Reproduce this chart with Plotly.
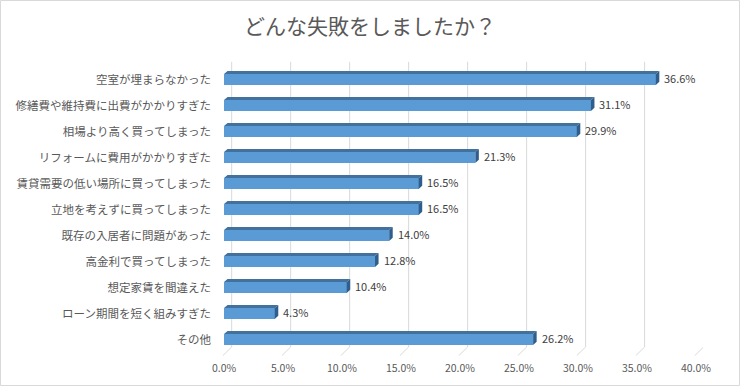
import plotly.graph_objects as go

categories = [
    "空室が埋まらなかった",
    "修繕費や維持費に出費がかかりすぎた",
    "相場より高く買ってしまった",
    "リフォームに費用がかかりすぎた",
    "賃貸需要の低い場所に買ってしまった",
    "立地を考えずに買ってしまった",
    "既存の入居者に問題があった",
    "高金利で買ってしまった",
    "想定家賃を間違えた",
    "ローン期間を短く組みすぎた",
    "その他",
]
values = [36.6, 31.1, 29.9, 21.3, 16.5, 16.5, 14.0, 12.8, 10.4, 4.3, 26.2]
tick_vals = [0, 5, 10, 15, 20, 25, 30, 35, 40]
tick_text = ["0.0%", "5.0%", "10.0%", "15.0%", "20.0%", "25.0%", "30.0%", "35.0%", "40.0%"]

W, H = 740, 386
ML, MR, MT, MB = 222, 37, 60, 30
FONT = "Noto Sans CJK JP"

FRONT = "#5B9BD5"
TOP = "#41719C"
SIDE = "#2F5E8C"
GRID = "#D9D9D9"

idx = list(range(len(categories)))
half = 0.21      # half height of front face (category units)
topd = 0.12      # top face depth (vertical)
d = 0.3          # depth shift in x (%)

fig = go.Figure()

# Front faces
fig.add_trace(go.Bar(
    x=values, y=idx, orientation="h", width=2 * half,
    marker=dict(color=FRONT, line=dict(width=0)),
    hoverinfo="skip", showlegend=False,
))

# Top faces & side faces as parallelograms
tx, ty, sx, sy = [], [], [], []
for i, v in zip(idx, values):
    yt = i - half
    tx += [0, v, v + d, d, 0, None]
    ty += [yt, yt, yt - topd, yt - topd, yt, None]
    sx += [v, v, v + d, v + d, v, None]
    sy += [yt, i + half, i + half - topd, yt - topd, yt, None]

fig.add_trace(go.Scatter(x=tx, y=ty, fill="toself", fillcolor=TOP, mode="lines",
                         line=dict(width=0, color=TOP), hoverinfo="skip", showlegend=False))
fig.add_trace(go.Scatter(x=sx, y=sy, fill="toself", fillcolor=SIDE, mode="lines",
                         line=dict(width=0, color=SIDE), hoverinfo="skip", showlegend=False))

# value labels
for i, v in zip(idx, values):
    fig.add_annotation(x=v + d, y=i - 0.04, text=f"{v:.1f}%", showarrow=False,
                       xanchor="left", yanchor="middle", xshift=3,
                       font=dict(family=FONT, size=11, color="#404040"))

# back-wall gridlines with slanted floor segments
ytop = -0.68
yback = 10.29
yfront = 10.62
for t in tick_vals:
    fig.add_shape(type="line", xref="x", yref="y", x0=t + 0.65, x1=t + 0.65, y0=ytop, y1=yback,
                  line=dict(color=GRID, width=1), layer="below")
    fig.add_shape(type="line", xref="x", yref="y", x0=t + 0.65, x1=t - 0.1, y0=yback, y1=yfront,
                  line=dict(color=GRID, width=1), layer="below")

# outer frame
pw = W - ML - MR
ph = H - MT - MB
fig.add_shape(type="rect", xref="paper", yref="paper",
              x0=(-ML + 0.5) / pw, x1=(pw + MR - 0.5) / pw,
              y0=(-MB + 0.5) / ph, y1=(ph + MT - 0.5) / ph,
              line=dict(color="#D9D9D9", width=1), fillcolor="rgba(0,0,0,0)", layer="below")

fig.update_layout(
    width=W, height=H,
    margin=dict(l=ML, r=MR, t=MT, b=MB, pad=0),
    paper_bgcolor="white", plot_bgcolor="white",
    title=dict(text="どんな失敗をしましたか？", x=0.5, xanchor="center", y=1 - 27 / H, yanchor="middle",
               font=dict(family=FONT, size=21, color="#595959")),
    bargap=0,
    xaxis=dict(range=[-0.17, 40.6], tickvals=tick_vals, ticktext=tick_text, showgrid=False,
               zeroline=False, showline=False, ticks="", ticklabelstandoff=4,
               tickfont=dict(family=FONT, size=10.5, color="#595959")),
    yaxis=dict(range=[10.635, -0.75], tickvals=idx, ticktext=categories, showgrid=False,
               zeroline=False, showline=False, ticks="", ticklabelstandoff=10,
               tickfont=dict(family=FONT, size=11.5, color="#595959")),
    font=dict(family=FONT),
)

fig.write_html("out.html", config={"displayModeBar": False},
               post_script="document.body.style.margin='0';document.body.style.overflow='hidden';")
